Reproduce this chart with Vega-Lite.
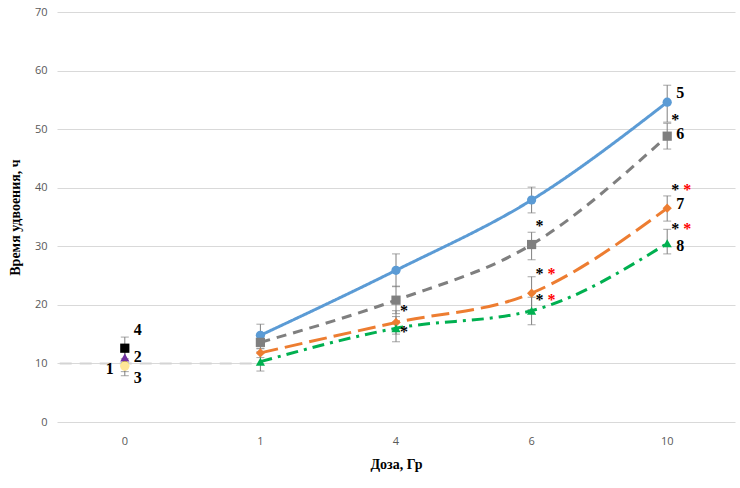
{
  "$schema": "https://vega.github.io/schema/vega-lite/v6.json",
  "width": 678,
  "height": 410,
  "autosize": "none",
  "padding": {"left": 57, "top": 12, "right": 5, "bottom": 66},
  "background": "white",
  "config": {"view": {"stroke": null}},
  "datasets": {
    "main": [
      {"dose": "0", "group": "1", "mean": 10.3, "lo": 8.6, "hi": 12.0},
      {"dose": "0", "group": "2", "mean": 11.0, "lo": 9.5, "hi": 12.5},
      {"dose": "0", "group": "3", "mean": 9.5, "lo": 7.9, "hi": 10.1},
      {"dose": "0", "group": "4", "mean": 12.6, "lo": 10.8, "hi": 14.5},
      {"dose": "1", "group": "5", "mean": 14.8, "lo": 13.0, "hi": 16.7},
      {"dose": "4", "group": "5", "mean": 25.9, "lo": 23.1, "hi": 28.7},
      {"dose": "6", "group": "5", "mean": 37.9, "lo": 35.7, "hi": 40.1},
      {"dose": "10", "group": "5", "mean": 54.6, "lo": 51.2, "hi": 57.5},
      {"dose": "1", "group": "6", "mean": 13.6, "lo": 12.5, "hi": 14.7},
      {"dose": "4", "group": "6", "mean": 20.8, "lo": 18.5, "hi": 23.2},
      {"dose": "6", "group": "6", "mean": 30.3, "lo": 27.7, "hi": 32.4},
      {"dose": "10", "group": "6", "mean": 48.8, "lo": 46.6, "hi": 51.0},
      {"dose": "1", "group": "7", "mean": 11.8, "lo": 11.0, "hi": 12.6},
      {"dose": "4", "group": "7", "mean": 17.0, "lo": 15.0, "hi": 19.0},
      {"dose": "6", "group": "7", "mean": 22.0, "lo": 19.2, "hi": 24.8},
      {"dose": "10", "group": "7", "mean": 36.5, "lo": 34.3, "hi": 38.6},
      {"dose": "1", "group": "8", "mean": 10.3, "lo": 8.7, "hi": 12.0},
      {"dose": "4", "group": "8", "mean": 16.0, "lo": 13.7, "hi": 18.0},
      {"dose": "6", "group": "8", "mean": 19.0, "lo": 16.6, "hi": 21.3},
      {"dose": "10", "group": "8", "mean": 30.5, "lo": 28.7, "hi": 32.9}
    ],
    "labels": [
      {"dose": "0", "txt": "4", "v": 15.7, "side": "right"},
      {"dose": "0", "txt": "2", "v": 11.1, "side": "right"},
      {"dose": "0", "txt": "3", "v": 7.5, "side": "right"},
      {"dose": "0", "txt": "1", "v": 9.0, "side": "left"},
      {"dose": "10", "txt": "5", "v": 56.1, "side": "right"},
      {"dose": "10", "txt": "6", "v": 49.1, "side": "right"},
      {"dose": "10", "txt": "7", "v": 37.2, "side": "right"},
      {"dose": "10", "txt": "8", "v": 30.0, "side": "right"}
    ],
    "stars": [
      {"dose": "10", "v": 52.1, "kind": "black"},
      {"dose": "10", "v": 40.2, "kind": "black"},
      {"dose": "10", "v": 33.4, "kind": "black"},
      {"dose": "6", "v": 34.0, "kind": "black"},
      {"dose": "6", "v": 25.8, "kind": "black"},
      {"dose": "6", "v": 21.3, "kind": "black"},
      {"dose": "4", "v": 19.5, "kind": "black"},
      {"dose": "4", "v": 15.9, "kind": "black"},
      {"dose": "10", "v": 40.2, "kind": "red"},
      {"dose": "10", "v": 33.4, "kind": "red"},
      {"dose": "6", "v": 25.8, "kind": "red"},
      {"dose": "6", "v": 21.3, "kind": "red"}
    ],
    "ref": [
      {"from": "0", "to": "1", "v": 10}
    ]
  },
  "layer": [
    {
      "data": {"name": "ref"},
      "mark": {"type": "rule", "color": "#d4d4d4", "strokeWidth": 2, "strokeDash": [12, 8]},
      "encoding": {
        "x": {
          "field": "from", "type": "ordinal", "bandPosition": 0.02, "title": "Доза, Гр",
          "scale": {"domain": ["0", "1", "4", "6", "10"], "paddingInner": 0, "paddingOuter": 0},
          "axis": {
            "title": "Доза, Гр", "titleFont": "Liberation Serif", "titleFontSize": 14, "titleFontWeight": "bold", "titleColor": "#000000", "titlePadding": 11,
            "labelFont": "Open Sans", "labelFontSize": 11, "labelColor": "#595959", "labelAngle": 0, "labelPadding": 13,
            "domain": false, "ticks": false, "grid": false
          }
        },
        "x2": {"field": "to", "bandPosition": 0.5},
        "y": {
          "field": "v", "type": "quantitative", "title": "Время удвоения, ч",
          "scale": {"domain": [0, 70], "nice": false},
          "axis": {
            "values": [0, 10, 20, 30, 40, 50, 60, 70],
            "title": "Время удвоения, ч", "titleFont": "Liberation Serif", "titleFontSize": 14, "titleFontWeight": "bold", "titleColor": "#000000", "titlePadding": 12,
            "labelFont": "Open Sans", "labelFontSize": 11, "labelColor": "#595959", "labelPadding": 10,
            "domain": false, "ticks": false, "grid": true, "gridColor": "#d9d9d9", "gridWidth": 1
          }
        }
      }
    },
    {
      "data": {"name": "main"},
      "mark": {"type": "errorbar", "color": "#7f7f7f", "ticks": {"size": 8, "color": "#7f7f7f"}, "rule": {"strokeWidth": 1}},
      "encoding": {
        "x": {"field": "dose", "type": "ordinal", "title": "Доза, Гр"},
        "y": {"field": "lo", "type": "quantitative", "title": "Время удвоения, ч"},
        "y2": {"field": "hi"}
      }
    },
    {
      "data": {"name": "main"},
      "transform": [{"filter": "datum.group >= 5"}],
      "mark": {"type": "line", "strokeWidth": 3, "interpolate": "monotone"},
      "encoding": {
        "x": {"field": "dose", "type": "ordinal", "title": "Доза, Гр"},
        "y": {"field": "mean", "type": "quantitative", "title": "Время удвоения, ч"},
        "color": {"field": "group", "type": "nominal", "legend": null,
          "scale": {"domain": ["1", "2", "3", "4", "5", "6", "7", "8"],
                    "range": ["#FFFF00", "#7030A0", "#FFE699", "#000000", "#5B9BD5", "#7F7F7F", "#ED7D31", "#00B050"]}},
        "strokeDash": {"field": "group", "type": "nominal", "legend": null,
          "scale": {"domain": ["5", "6", "7", "8"], "range": [[1, 0], [10, 7], [18, 7], [12, 6, 3, 6]]}}
      }
    },
    {
      "data": {"name": "main"},
      "mark": {"type": "point", "filled": true, "opacity": 1, "size": 85},
      "encoding": {
        "x": {"field": "dose", "type": "ordinal", "title": "Доза, Гр"},
        "y": {"field": "mean", "type": "quantitative", "title": "Время удвоения, ч"},
        "color": {"field": "group", "type": "nominal", "legend": null},
        "shape": {"field": "group", "type": "nominal", "legend": null,
          "scale": {"domain": ["1", "2", "3", "4", "5", "6", "7", "8"],
                    "range": ["triangle-up", "triangle-up", "circle", "square", "circle", "square", "diamond", "triangle-up"]}}
      }
    },
    {
      "data": {"name": "labels"},
      "transform": [{"filter": "datum.side == 'right'"}],
      "mark": {"type": "text", "font": "Liberation Serif", "fontWeight": "bold", "fontSize": 16, "align": "left", "baseline": "middle", "dx": 9, "color": "#000000"},
      "encoding": {
        "x": {"field": "dose", "type": "ordinal", "title": "Доза, Гр"},
        "y": {"field": "v", "type": "quantitative", "title": "Время удвоения, ч"},
        "text": {"field": "txt"}
      }
    },
    {
      "data": {"name": "labels"},
      "transform": [{"filter": "datum.side == 'left'"}],
      "mark": {"type": "text", "font": "Liberation Serif", "fontWeight": "bold", "fontSize": 16, "align": "right", "baseline": "middle", "dx": -11, "color": "#000000"},
      "encoding": {
        "x": {"field": "dose", "type": "ordinal", "title": "Доза, Гр"},
        "y": {"field": "v", "type": "quantitative", "title": "Время удвоения, ч"},
        "text": {"field": "txt"}
      }
    },
    {
      "data": {"name": "stars"},
      "transform": [{"filter": "datum.kind == 'black'"}],
      "mark": {"type": "text", "font": "Liberation Serif", "fontWeight": "bold", "fontSize": 16, "align": "center", "baseline": "middle", "dx": 8, "dy": 3, "color": "#000000", "text": "*"},
      "encoding": {
        "x": {"field": "dose", "type": "ordinal", "title": "Доза, Гр"},
        "y": {"field": "v", "type": "quantitative", "title": "Время удвоения, ч"}
      }
    },
    {
      "data": {"name": "stars"},
      "transform": [{"filter": "datum.kind == 'red'"}],
      "mark": {"type": "text", "font": "Liberation Serif", "fontWeight": "bold", "fontSize": 16, "align": "center", "baseline": "middle", "dx": 20, "dy": 3, "color": "#FF0000", "text": "*"},
      "encoding": {
        "x": {"field": "dose", "type": "ordinal", "title": "Доза, Гр"},
        "y": {"field": "v", "type": "quantitative", "title": "Время удвоения, ч"}
      }
    }
  ]
}
